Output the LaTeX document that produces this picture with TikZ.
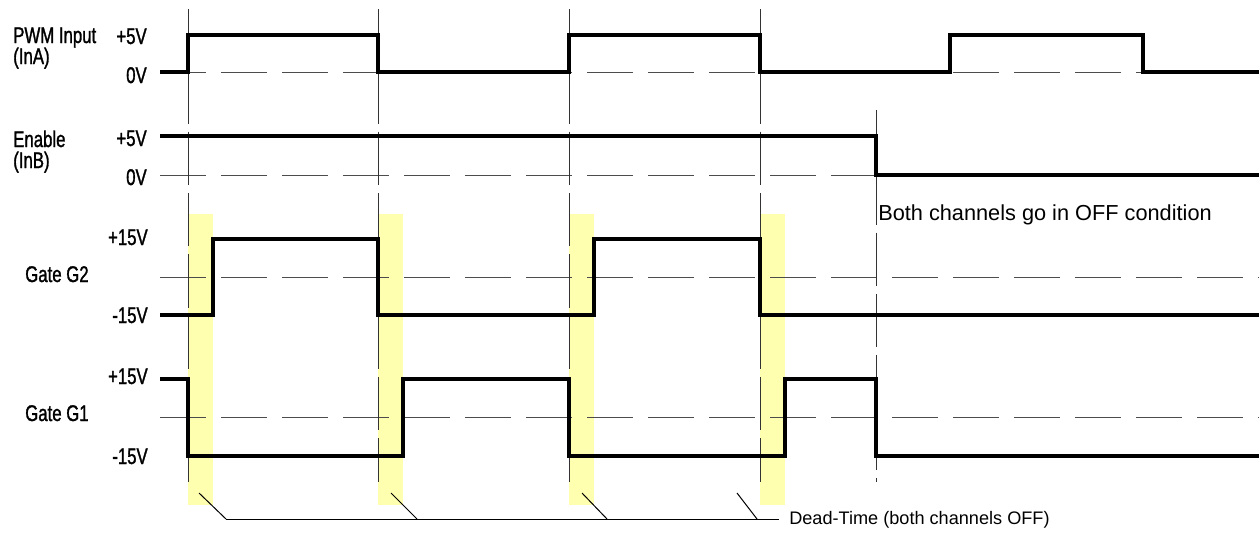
\documentclass[tikz,border=0pt]{standalone}
\usepackage{fontspec}
\setmainfont{Liberation Sans}
\newfontfamily\condf[FakeStretch=0.74,FakeBold=1.3]{Liberation Sans}
\definecolor{dtyellow}{RGB}{255,255,176}
\begin{document}
\begin{tikzpicture}[x=0.75pt,y=-0.75pt,
  sig/.style={line width=2.3pt, line join=miter},
  refline/.style={line width=0.75pt, black!70, dash pattern=on 34.5pt off 11.25pt},
  vline/.style={line width=0.7pt, black!80, dash pattern=on 40pt off 6pt},
  lead/.style={line width=0.75pt},
  dtbar/.style={fill=dtyellow, draw=none},
  lab/.style={font=\condf\fontsize{17}{18}\selectfont, inner sep=0pt},
  vlab/.style={lab, anchor=base east},
  nlab/.style={lab, anchor=base west},
  note/.style={inner sep=0pt, anchor=base west}]
\useasboundingbox (0,0) rectangle (1259,532);

% dead-time bars
\foreach \x in {188,378,569,760}
  \fill[dtbar] (\x,214) rectangle ({\x+25},505);

% reference (dashed) levels
\foreach \y in {72,175,277,417}
  \draw[refline] (160,\y) -- (1259,\y);

% vertical time markers
\foreach \x in {188,378,569,760}
  \draw[vline] (\x,9) -- (\x,482);
\draw[vline] (876,110) -- (876,482);

% signals
\draw[sig] (160,72) -- (188,72) -- (188,35) -- (378,35) -- (378,72) -- (569,72) -- (569,35)
  -- (760,35) -- (760,72) -- (950,72) -- (950,35) -- (1143,35) -- (1143,72) -- (1259,72);
\draw[sig] (160,136) -- (876,136) -- (876,175) -- (1259,175);
\draw[sig] (160,315) -- (213,315) -- (213,239) -- (378,239) -- (378,315) -- (594,315) -- (594,239)
  -- (760,239) -- (760,315) -- (1259,315);
\draw[sig] (160,379) -- (188,379) -- (188,456) -- (403,456) -- (403,379) -- (569,379) -- (569,456)
  -- (785,456) -- (785,379) -- (876,379) -- (876,456) -- (1259,456);

% left labels
\node[nlab] (pwm) at (13,43) {PWM Input};
\node[nlab] (ina) at (13,64) {(InA)};
\node[nlab] (en) at (13,147) {Enable};
\node[nlab] (inb) at (13,168) {(InB)};
\node[nlab] (g2) at (25,282) {Gate G2};
\node[nlab] (g1) at (25,421) {Gate G1};

\node[vlab] (v1) at (147,44) {+5V};
\node[vlab] (v2) at (147,83) {0V};
\node[vlab] (v3) at (147,146) {+5V};
\node[vlab] (v4) at (147,185) {0V};
\node[vlab] (v5) at (148,245) {+15V};
\node[vlab] (v6) at (148,323) {-15V};
\node[vlab] (v7) at (148,384) {+15V};
\node[vlab] (v8) at (148,464) {-15V};

% notes
\node[note, font=\fontsize{16.3}{18}\selectfont] (off) at (878,220) {Both channels go in OFF condition};
\node[note, font=\fontsize{13.6}{15}\selectfont] (dt) at (789,524) {Dead-Time (both channels OFF)};

% dead-time leaders
\coordinate (h1) at (226,519);
\coordinate (h2) at (417,519);
\coordinate (h3) at (607,519);
\coordinate (h4) at (757,519);
\coordinate (hend) at (779,519);
\draw[lead] (199,493) -- (h1);
\draw[lead] (391,493) -- (h2);
\draw[lead] (582,493) -- (h3);
\draw[lead] (737,493) -- (h4);
\draw[lead] (h1) -- (hend);
\end{tikzpicture}
\end{document}
